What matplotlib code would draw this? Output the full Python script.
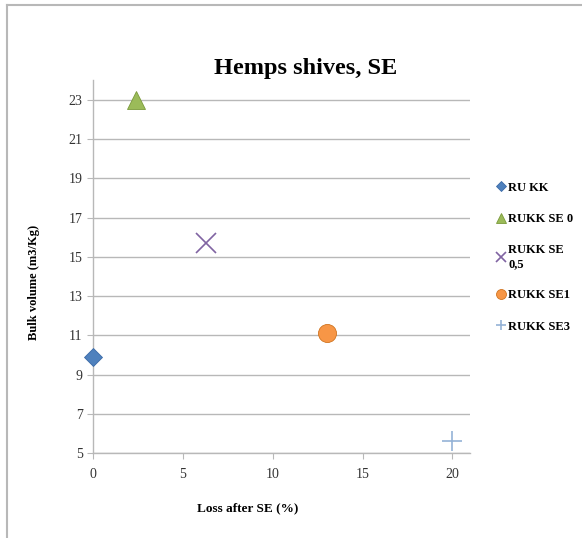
import matplotlib
matplotlib.use("Agg")
import matplotlib.pyplot as plt
from matplotlib.lines import Line2D

# data
labels = ["RU KK", "RUKK SE 0", "RUKK SE\n0,5", "RUKK SE1", "RUKK SE3"]
loss = [0, 2.4, 6.3, 13.0, 20.0]
bulk = [9.9, 23.0, 15.7, 11.1, 5.6]

markers = ["D", "^", "x", "o", "+"]
colors = ["#4f81bd", "#9bbb59", "#8064a2", "#f79646", "#95b3d7"]
sizes = [9, 13, 14, 13, 14]
edges = ["#3a6aa8", "#7a9a3a", "#8064a2", "#d07420", "#95b3d7"]

plt.rcParams["font.family"] = ["Liberation Serif", "DejaVu Serif"]

fig = plt.figure(figsize=(5.82, 5.38), dpi=100)
ax = fig.add_axes([0.160, 0.158, 0.648, 0.693])

for x, y, lab, m, c, s, e in zip(loss, bulk, labels, markers, colors, sizes, edges):
    if m in ("x", "+"):
        ax.plot([x], [y], linestyle="none", marker=m, markersize=s, color=c,
                markeredgewidth=1.2, label=lab, clip_on=False, zorder=3)
    else:
        ax.plot([x], [y], linestyle="none", marker=m, markersize=s,
                markerfacecolor=c, markeredgecolor=e, markeredgewidth=0.6,
                label=lab, clip_on=False, zorder=3)

ax.set_xlim(0, 21)
ax.set_ylim(5, 24)
ax.set_xticks([0, 5, 10, 15, 20])
ax.set_yticks(range(5, 24, 2))
ax.yaxis.grid(True, color="#b8b8b8", linewidth=1)
ax.set_axisbelow(True)
for sp in ["top", "right"]:
    ax.spines[sp].set_visible(False)
for sp in ["left", "bottom"]:
    ax.spines[sp].set_color("#b8b8b8")
    ax.spines[sp].set_linewidth(1)
ax.tick_params(axis="both", colors="#b8b8b8", labelcolor="#333333",
               labelsize=10, length=4, direction="out")
ax.tick_params(axis="x", pad=7)

ax.set_xlabel("Loss after SE (%)", fontsize=9.5, fontweight="bold")
ax.xaxis.set_label_coords(0.411, -0.132)
ax.set_ylabel("Bulk volume (m3/Kg)", fontsize=9, fontweight="bold")
ax.yaxis.set_label_coords(-0.140, 0.458)
fig.text(0.525, 0.873, "Hemps shives, SE", ha="center", va="center",
         fontsize=17.5, fontweight="bold")

leg = fig.legend(loc="center left", bbox_to_anchor=(0.83, 0.522), frameon=False,
                 prop={"weight": "bold", "size": 9}, labelspacing=1.55,
                 handletextpad=0.1, handlelength=1.0, markerscale=0.55)

# chart frame
fig.add_artist(Line2D([0.012, 0.012], [0.0, 0.991], color="#b8b8b8", lw=1.5))
fig.add_artist(Line2D([0.012, 1.0], [0.991, 0.991], color="#b8b8b8", lw=1.5))

fig.savefig("out.png", dpi=100)
